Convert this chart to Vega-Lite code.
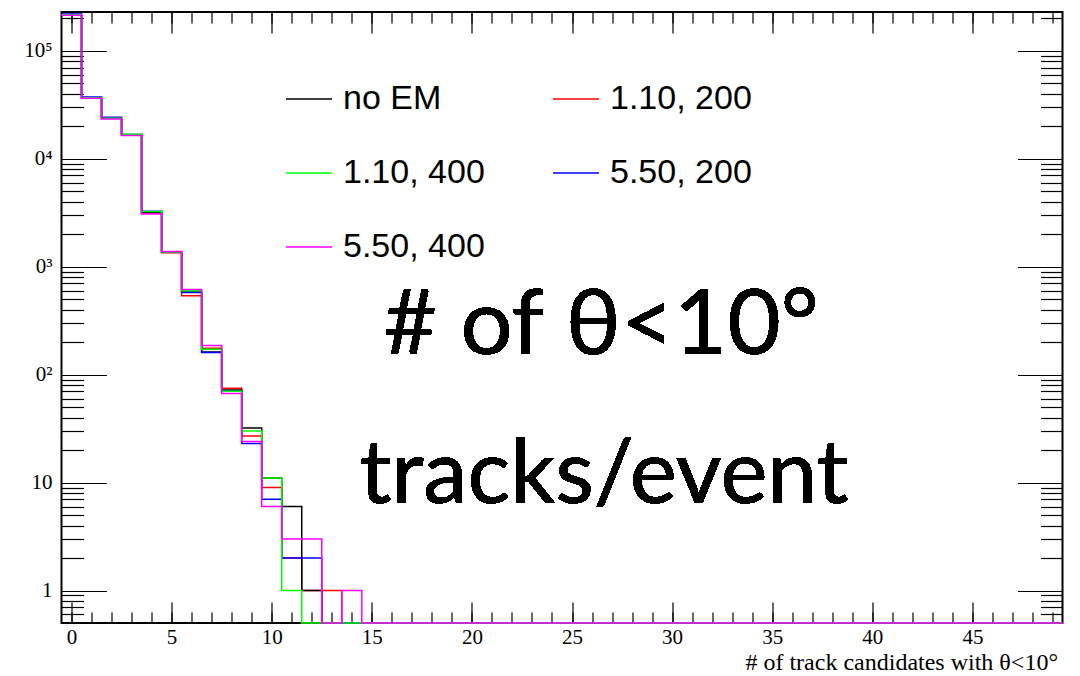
{
  "$schema": "https://vega.github.io/schema/vega-lite/v6.json",
  "autosize": {"type": "none"},
  "width": 1001,
  "height": 611,
  "padding": {"left": 61.5, "top": 12, "right": 17.5, "bottom": 53},
  "background": "white",
  "config": {
    "view": {"stroke": "black", "strokeWidth": 2},
    "axis": {
      "grid": false,
      "domain": false,
      "tickColor": "black",
      "tickWidth": 1.2,
      "labelColor": "black",
      "titleColor": "black",
      "labelFont": "Liberation Serif",
      "titleFont": "Liberation Serif",
      "titleFontWeight": "normal",
      "labelFlush": false,
      "labelOverlap": false
    }
  },
  "data": {
    "values": [
      {"s": "1.10, 200", "x": -0.5, "n": 216000}, {"s": "1.10, 200", "x": 0.5, "n": 36700}, {"s": "1.10, 200", "x": 1.5, "n": 23700}, {"s": "1.10, 200", "x": 2.5, "n": 16600}, {"s": "1.10, 200", "x": 3.5, "n": 3150}, {"s": "1.10, 200", "x": 4.5, "n": 1350}, {"s": "1.10, 200", "x": 5.5, "n": 538}, {"s": "1.10, 200", "x": 6.5, "n": 176}, {"s": "1.10, 200", "x": 7.5, "n": 75}, {"s": "1.10, 200", "x": 8.5, "n": 27}, {"s": "1.10, 200", "x": 9.5, "n": 9}, {"s": "1.10, 200", "x": 10.5, "n": 2}, {"s": "1.10, 200", "x": 11.5, "n": 1}, {"s": "1.10, 200", "x": 12.5, "n": 1}, {"s": "1.10, 200", "x": 13.5, "n": 0},
      {"s": "1.10, 200", "x": 14.5, "n": 0}, {"s": "1.10, 200", "x": 15.5, "n": 0}, {"s": "1.10, 200", "x": 16.5, "n": 0}, {"s": "1.10, 200", "x": 17.5, "n": 0}, {"s": "1.10, 200", "x": 18.5, "n": 0}, {"s": "1.10, 200", "x": 19.5, "n": 0}, {"s": "1.10, 200", "x": 20.5, "n": 0}, {"s": "1.10, 200", "x": 21.5, "n": 0}, {"s": "1.10, 200", "x": 22.5, "n": 0}, {"s": "1.10, 200", "x": 23.5, "n": 0}, {"s": "1.10, 200", "x": 24.5, "n": 0}, {"s": "1.10, 200", "x": 25.5, "n": 0}, {"s": "1.10, 200", "x": 26.5, "n": 0}, {"s": "1.10, 200", "x": 27.5, "n": 0}, {"s": "1.10, 200", "x": 28.5, "n": 0}, {"s": "1.10, 200", "x": 29.5, "n": 0}, {"s": "1.10, 200", "x": 30.5, "n": 0}, {"s": "1.10, 200", "x": 31.5, "n": 0}, {"s": "1.10, 200", "x": 32.5, "n": 0}, {"s": "1.10, 200", "x": 33.5, "n": 0}, {"s": "1.10, 200", "x": 34.5, "n": 0}, {"s": "1.10, 200", "x": 35.5, "n": 0}, {"s": "1.10, 200", "x": 36.5, "n": 0}, {"s": "1.10, 200", "x": 37.5, "n": 0}, {"s": "1.10, 200", "x": 38.5, "n": 0}, {"s": "1.10, 200", "x": 39.5, "n": 0}, {"s": "1.10, 200", "x": 40.5, "n": 0}, {"s": "1.10, 200", "x": 41.5, "n": 0}, {"s": "1.10, 200", "x": 42.5, "n": 0}, {"s": "1.10, 200", "x": 43.5, "n": 0}, {"s": "1.10, 200", "x": 44.5, "n": 0}, {"s": "1.10, 200", "x": 45.5, "n": 0}, {"s": "1.10, 200", "x": 46.5, "n": 0}, {"s": "1.10, 200", "x": 47.5, "n": 0}, {"s": "1.10, 200", "x": 48.5, "n": 0}, {"s": "1.10, 200", "x": 49.5, "n": 0},

      {"s": "no EM", "x": -0.5, "n": 216000}, {"s": "no EM", "x": 0.5, "n": 36800}, {"s": "no EM", "x": 1.5, "n": 23800}, {"s": "no EM", "x": 2.5, "n": 16700}, {"s": "no EM", "x": 3.5, "n": 3200}, {"s": "no EM", "x": 4.5, "n": 1360}, {"s": "no EM", "x": 5.5, "n": 582}, {"s": "no EM", "x": 6.5, "n": 162}, {"s": "no EM", "x": 7.5, "n": 72}, {"s": "no EM", "x": 8.5, "n": 32}, {"s": "no EM", "x": 9.5, "n": 11}, {"s": "no EM", "x": 10.5, "n": 6}, {"s": "no EM", "x": 11.5, "n": 1}, {"s": "no EM", "x": 12.5, "n": 0}, {"s": "no EM", "x": 13.5, "n": 0},
      {"s": "no EM", "x": 14.5, "n": 0}, {"s": "no EM", "x": 15.5, "n": 0}, {"s": "no EM", "x": 16.5, "n": 0}, {"s": "no EM", "x": 17.5, "n": 0}, {"s": "no EM", "x": 18.5, "n": 0}, {"s": "no EM", "x": 19.5, "n": 0}, {"s": "no EM", "x": 20.5, "n": 0}, {"s": "no EM", "x": 21.5, "n": 0}, {"s": "no EM", "x": 22.5, "n": 0}, {"s": "no EM", "x": 23.5, "n": 0}, {"s": "no EM", "x": 24.5, "n": 0}, {"s": "no EM", "x": 25.5, "n": 0}, {"s": "no EM", "x": 26.5, "n": 0}, {"s": "no EM", "x": 27.5, "n": 0}, {"s": "no EM", "x": 28.5, "n": 0}, {"s": "no EM", "x": 29.5, "n": 0}, {"s": "no EM", "x": 30.5, "n": 0}, {"s": "no EM", "x": 31.5, "n": 0}, {"s": "no EM", "x": 32.5, "n": 0}, {"s": "no EM", "x": 33.5, "n": 0}, {"s": "no EM", "x": 34.5, "n": 0}, {"s": "no EM", "x": 35.5, "n": 0}, {"s": "no EM", "x": 36.5, "n": 0}, {"s": "no EM", "x": 37.5, "n": 0}, {"s": "no EM", "x": 38.5, "n": 0}, {"s": "no EM", "x": 39.5, "n": 0}, {"s": "no EM", "x": 40.5, "n": 0}, {"s": "no EM", "x": 41.5, "n": 0}, {"s": "no EM", "x": 42.5, "n": 0}, {"s": "no EM", "x": 43.5, "n": 0}, {"s": "no EM", "x": 44.5, "n": 0}, {"s": "no EM", "x": 45.5, "n": 0}, {"s": "no EM", "x": 46.5, "n": 0}, {"s": "no EM", "x": 47.5, "n": 0}, {"s": "no EM", "x": 48.5, "n": 0}, {"s": "no EM", "x": 49.5, "n": 0},

      {"s": "5.50, 200", "x": -0.5, "n": 219000}, {"s": "5.50, 200", "x": 0.5, "n": 37300}, {"s": "5.50, 200", "x": 1.5, "n": 24200}, {"s": "5.50, 200", "x": 2.5, "n": 16800}, {"s": "5.50, 200", "x": 3.5, "n": 3260}, {"s": "5.50, 200", "x": 4.5, "n": 1360}, {"s": "5.50, 200", "x": 5.5, "n": 576}, {"s": "5.50, 200", "x": 6.5, "n": 160}, {"s": "5.50, 200", "x": 7.5, "n": 70}, {"s": "5.50, 200", "x": 8.5, "n": 23}, {"s": "5.50, 200", "x": 9.5, "n": 7}, {"s": "5.50, 200", "x": 10.5, "n": 2}, {"s": "5.50, 200", "x": 11.5, "n": 2}, {"s": "5.50, 200", "x": 12.5, "n": 0}, {"s": "5.50, 200", "x": 13.5, "n": 0},
      {"s": "5.50, 200", "x": 14.5, "n": 0}, {"s": "5.50, 200", "x": 15.5, "n": 0}, {"s": "5.50, 200", "x": 16.5, "n": 0}, {"s": "5.50, 200", "x": 17.5, "n": 0}, {"s": "5.50, 200", "x": 18.5, "n": 0}, {"s": "5.50, 200", "x": 19.5, "n": 0}, {"s": "5.50, 200", "x": 20.5, "n": 0}, {"s": "5.50, 200", "x": 21.5, "n": 0}, {"s": "5.50, 200", "x": 22.5, "n": 0}, {"s": "5.50, 200", "x": 23.5, "n": 0}, {"s": "5.50, 200", "x": 24.5, "n": 0}, {"s": "5.50, 200", "x": 25.5, "n": 0}, {"s": "5.50, 200", "x": 26.5, "n": 0}, {"s": "5.50, 200", "x": 27.5, "n": 0}, {"s": "5.50, 200", "x": 28.5, "n": 0}, {"s": "5.50, 200", "x": 29.5, "n": 0}, {"s": "5.50, 200", "x": 30.5, "n": 0}, {"s": "5.50, 200", "x": 31.5, "n": 0}, {"s": "5.50, 200", "x": 32.5, "n": 0}, {"s": "5.50, 200", "x": 33.5, "n": 0}, {"s": "5.50, 200", "x": 34.5, "n": 0}, {"s": "5.50, 200", "x": 35.5, "n": 0}, {"s": "5.50, 200", "x": 36.5, "n": 0}, {"s": "5.50, 200", "x": 37.5, "n": 0}, {"s": "5.50, 200", "x": 38.5, "n": 0}, {"s": "5.50, 200", "x": 39.5, "n": 0}, {"s": "5.50, 200", "x": 40.5, "n": 0}, {"s": "5.50, 200", "x": 41.5, "n": 0}, {"s": "5.50, 200", "x": 42.5, "n": 0}, {"s": "5.50, 200", "x": 43.5, "n": 0}, {"s": "5.50, 200", "x": 44.5, "n": 0}, {"s": "5.50, 200", "x": 45.5, "n": 0}, {"s": "5.50, 200", "x": 46.5, "n": 0}, {"s": "5.50, 200", "x": 47.5, "n": 0}, {"s": "5.50, 200", "x": 48.5, "n": 0}, {"s": "5.50, 200", "x": 49.5, "n": 0},

      {"s": "1.10, 400", "x": -0.5, "n": 216500}, {"s": "1.10, 400", "x": 0.5, "n": 36800}, {"s": "1.10, 400", "x": 1.5, "n": 23800}, {"s": "1.10, 400", "x": 2.5, "n": 16900}, {"s": "1.10, 400", "x": 3.5, "n": 3240}, {"s": "1.10, 400", "x": 4.5, "n": 1370}, {"s": "1.10, 400", "x": 5.5, "n": 598}, {"s": "1.10, 400", "x": 6.5, "n": 172}, {"s": "1.10, 400", "x": 7.5, "n": 70}, {"s": "1.10, 400", "x": 8.5, "n": 30}, {"s": "1.10, 400", "x": 9.5, "n": 11}, {"s": "1.10, 400", "x": 10.5, "n": 1}, {"s": "1.10, 400", "x": 11.5, "n": 0}, {"s": "1.10, 400", "x": 12.5, "n": 0}, {"s": "1.10, 400", "x": 13.5, "n": 0},
      {"s": "1.10, 400", "x": 14.5, "n": 0}, {"s": "1.10, 400", "x": 15.5, "n": 0}, {"s": "1.10, 400", "x": 16.5, "n": 0}, {"s": "1.10, 400", "x": 17.5, "n": 0}, {"s": "1.10, 400", "x": 18.5, "n": 0}, {"s": "1.10, 400", "x": 19.5, "n": 0}, {"s": "1.10, 400", "x": 20.5, "n": 0}, {"s": "1.10, 400", "x": 21.5, "n": 0}, {"s": "1.10, 400", "x": 22.5, "n": 0}, {"s": "1.10, 400", "x": 23.5, "n": 0}, {"s": "1.10, 400", "x": 24.5, "n": 0}, {"s": "1.10, 400", "x": 25.5, "n": 0}, {"s": "1.10, 400", "x": 26.5, "n": 0}, {"s": "1.10, 400", "x": 27.5, "n": 0}, {"s": "1.10, 400", "x": 28.5, "n": 0}, {"s": "1.10, 400", "x": 29.5, "n": 0}, {"s": "1.10, 400", "x": 30.5, "n": 0}, {"s": "1.10, 400", "x": 31.5, "n": 0}, {"s": "1.10, 400", "x": 32.5, "n": 0}, {"s": "1.10, 400", "x": 33.5, "n": 0}, {"s": "1.10, 400", "x": 34.5, "n": 0}, {"s": "1.10, 400", "x": 35.5, "n": 0}, {"s": "1.10, 400", "x": 36.5, "n": 0}, {"s": "1.10, 400", "x": 37.5, "n": 0}, {"s": "1.10, 400", "x": 38.5, "n": 0}, {"s": "1.10, 400", "x": 39.5, "n": 0}, {"s": "1.10, 400", "x": 40.5, "n": 0}, {"s": "1.10, 400", "x": 41.5, "n": 0}, {"s": "1.10, 400", "x": 42.5, "n": 0}, {"s": "1.10, 400", "x": 43.5, "n": 0}, {"s": "1.10, 400", "x": 44.5, "n": 0}, {"s": "1.10, 400", "x": 45.5, "n": 0}, {"s": "1.10, 400", "x": 46.5, "n": 0}, {"s": "1.10, 400", "x": 47.5, "n": 0}, {"s": "1.10, 400", "x": 48.5, "n": 0}, {"s": "1.10, 400", "x": 49.5, "n": 0},

      {"s": "5.50, 400", "x": -0.5, "n": 214000}, {"s": "5.50, 400", "x": 0.5, "n": 36300}, {"s": "5.50, 400", "x": 1.5, "n": 23400}, {"s": "5.50, 400", "x": 2.5, "n": 16400}, {"s": "5.50, 400", "x": 3.5, "n": 3080}, {"s": "5.50, 400", "x": 4.5, "n": 1380}, {"s": "5.50, 400", "x": 5.5, "n": 615}, {"s": "5.50, 400", "x": 6.5, "n": 186}, {"s": "5.50, 400", "x": 7.5, "n": 67}, {"s": "5.50, 400", "x": 8.5, "n": 24}, {"s": "5.50, 400", "x": 9.5, "n": 6}, {"s": "5.50, 400", "x": 10.5, "n": 3}, {"s": "5.50, 400", "x": 11.5, "n": 3}, {"s": "5.50, 400", "x": 12.5, "n": 0}, {"s": "5.50, 400", "x": 13.5, "n": 1},
      {"s": "5.50, 400", "x": 14.5, "n": 0}, {"s": "5.50, 400", "x": 15.5, "n": 0}, {"s": "5.50, 400", "x": 16.5, "n": 0}, {"s": "5.50, 400", "x": 17.5, "n": 0}, {"s": "5.50, 400", "x": 18.5, "n": 0}, {"s": "5.50, 400", "x": 19.5, "n": 0}, {"s": "5.50, 400", "x": 20.5, "n": 0}, {"s": "5.50, 400", "x": 21.5, "n": 0}, {"s": "5.50, 400", "x": 22.5, "n": 0}, {"s": "5.50, 400", "x": 23.5, "n": 0}, {"s": "5.50, 400", "x": 24.5, "n": 0}, {"s": "5.50, 400", "x": 25.5, "n": 0}, {"s": "5.50, 400", "x": 26.5, "n": 0}, {"s": "5.50, 400", "x": 27.5, "n": 0}, {"s": "5.50, 400", "x": 28.5, "n": 0}, {"s": "5.50, 400", "x": 29.5, "n": 0}, {"s": "5.50, 400", "x": 30.5, "n": 0}, {"s": "5.50, 400", "x": 31.5, "n": 0}, {"s": "5.50, 400", "x": 32.5, "n": 0}, {"s": "5.50, 400", "x": 33.5, "n": 0}, {"s": "5.50, 400", "x": 34.5, "n": 0}, {"s": "5.50, 400", "x": 35.5, "n": 0}, {"s": "5.50, 400", "x": 36.5, "n": 0}, {"s": "5.50, 400", "x": 37.5, "n": 0}, {"s": "5.50, 400", "x": 38.5, "n": 0}, {"s": "5.50, 400", "x": 39.5, "n": 0}, {"s": "5.50, 400", "x": 40.5, "n": 0}, {"s": "5.50, 400", "x": 41.5, "n": 0}, {"s": "5.50, 400", "x": 42.5, "n": 0}, {"s": "5.50, 400", "x": 43.5, "n": 0}, {"s": "5.50, 400", "x": 44.5, "n": 0}, {"s": "5.50, 400", "x": 45.5, "n": 0}, {"s": "5.50, 400", "x": 46.5, "n": 0}, {"s": "5.50, 400", "x": 47.5, "n": 0}, {"s": "5.50, 400", "x": 48.5, "n": 0}, {"s": "5.50, 400", "x": 49.5, "n": 0}
    ]
  },
  "layer": [
    {
      "mark": {"type": "line", "interpolate": "step-after", "strokeWidth": 1.5, "clip": false},
      "encoding": {
        "x": {
          "field": "x", "type": "quantitative",
          "scale": {"domain": [-0.5, 49.5], "nice": false, "zero": false},
          "axis": {
            "orient": "bottom", "values": [0, 5, 10, 15, 20, 25, 30, 35, 40, 45],
            "tickSize": -21, "labelPadding": 41, "labelBaseline": "alphabetic", "labelFontSize": 21,
            "title": "# of track candidates with θ<10°", "titleFontSize": 24,
            "titleAnchor": "end", "titleAlign": "right", "titleBaseline": "alphabetic", "titleX": 996, "titleY": 46
          }
        },
        "y": {
          "field": "n", "type": "quantitative",
          "scale": {"type": "log", "domain": [0.5, 229000], "nice": false, "clamp": true},
          "axis": {
            "orient": "left", "values": [1, 10, 100, 1000, 10000, 100000],
            "tickSize": -45, "labelPadding": 54.5, "labelFontSize": 21, "labelAlign": "right", "labelBaseline": "middle",
            "labelExpr": "datum.value < 5 ? '1' : datum.value < 50 ? '10' : datum.value < 500 ? '0²' : datum.value < 5000 ? '0³' : datum.value < 50000 ? '0⁴' : '10⁵'",
            "title": null
          }
        },
        "color": {
          "field": "s", "type": "nominal",
          "scale": {
            "domain": ["no EM", "1.10, 400", "5.50, 400", "1.10, 200", "5.50, 200"],
            "range": ["#000000", "#00ff00", "#ff00ff", "#ff0000", "#0000ff"]
          },
          "legend": {
            "orient": "none", "legendX": 223.5, "legendY": 63, "columns": 2, "title": null,
            "symbolType": "stroke", "symbolSize": 2116, "symbolStrokeWidth": 1.5,
            "labelFont": "Liberation Sans", "labelFontSize": 34, "labelColor": "black", "labelOffset": 10, "labelLimit": 0,
            "columnPadding": 65, "rowPadding": 33, "padding": 0
          }
        }
      }
    },
    {
      "mark": {"type": "point", "opacity": 0},
      "encoding": {
        "x": {"field": "x", "type": "quantitative",
          "axis": {"orient": "bottom", "values": [0,1,2,3,4,5,6,7,8,9,10,11,12,13,14,15,16,17,18,19,20,21,22,23,24,25,26,27,28,29,30,31,32,33,34,35,36,37,38,39,40,41,42,43,44,45,46,47,48,49], "tickSize": -11, "labels": false, "title": null}},
        "y": {"field": "n", "type": "quantitative",
          "axis": {"orient": "left", "values": [0.6,0.7,0.8,0.9,2,3,4,5,6,7,8,9,20,30,40,50,60,70,80,90,200,300,400,500,600,700,800,900,2000,3000,4000,5000,6000,7000,8000,9000,20000,30000,40000,50000,60000,70000,80000,90000,200000], "tickSize": -22, "labels": false, "title": null}}
      }
    },
    {
      "mark": {"type": "point", "opacity": 0},
      "encoding": {
        "x": {"field": "x", "type": "quantitative",
          "axis": {"orient": "top", "values": [0, 5, 10, 15, 20, 25, 30, 35, 40, 45], "tickSize": -21, "labels": false, "title": null}},
        "y": {"field": "n", "type": "quantitative",
          "axis": {"orient": "right", "values": [1, 10, 100, 1000, 10000, 100000], "tickSize": -45, "labels": false, "title": null}}
      }
    },
    {
      "mark": {"type": "point", "opacity": 0},
      "encoding": {
        "x": {"field": "x", "type": "quantitative",
          "axis": {"orient": "top", "values": [0,1,2,3,4,5,6,7,8,9,10,11,12,13,14,15,16,17,18,19,20,21,22,23,24,25,26,27,28,29,30,31,32,33,34,35,36,37,38,39,40,41,42,43,44,45,46,47,48,49], "tickSize": -11, "labels": false, "title": null}},
        "y": {"field": "n", "type": "quantitative",
          "axis": {"orient": "right", "values": [0.6,0.7,0.8,0.9,2,3,4,5,6,7,8,9,20,30,40,50,60,70,80,90,200,300,400,500,600,700,800,900,2000,3000,4000,5000,6000,7000,8000,9000,20000,30000,40000,50000,60000,70000,80000,90000,200000], "tickSize": -22, "labels": false, "title": null}}
      }
    },
    {
      "mark": {"type": "text", "text": "# of θ<10°", "font": "Lato", "fontSize": 92, "align": "center", "baseline": "alphabetic", "color": "black"},
      "encoding": {
        "x": {"datum": 26.46, "type": "quantitative", "axis": null},
        "y": {"datum": 155, "type": "quantitative", "axis": null}
      }
    },
    {
      "mark": {"type": "text", "text": "tracks/event", "font": "Lato", "fontSize": 89, "align": "center", "baseline": "alphabetic", "color": "black"},
      "encoding": {
        "x": {"datum": 26.6, "type": "quantitative", "axis": null},
        "y": {"datum": 6.44, "type": "quantitative", "axis": null}
      }
    }
  ],
  "resolve": {"axis": {"x": "independent", "y": "independent"}}
}
